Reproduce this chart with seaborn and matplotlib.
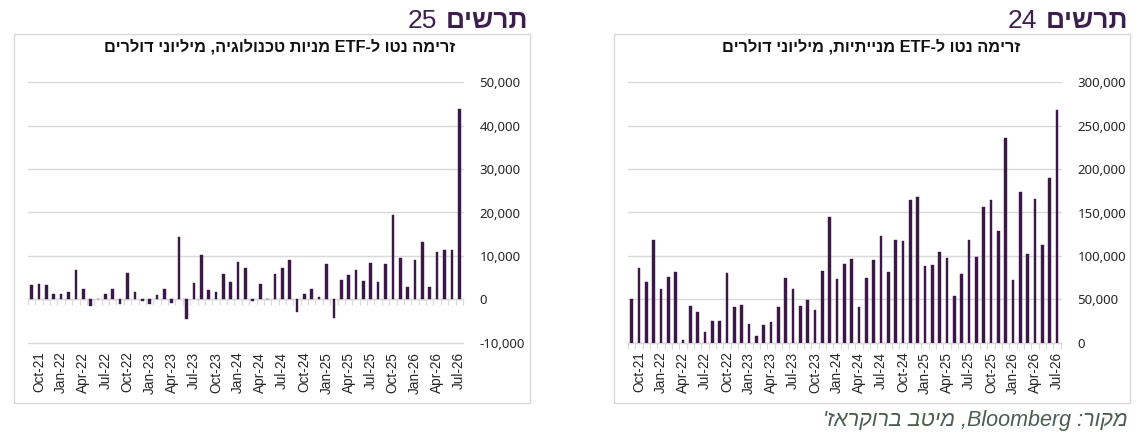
import matplotlib
matplotlib.use("Agg")
import matplotlib.pyplot as plt
import seaborn as sns
import pandas as pd
import numpy as np
from matplotlib.patches import Rectangle

sns.set_theme(style="white")
plt.rcParams['font.family'] = ['Liberation Sans', 'DejaVu Sans']

# ---------------- data ----------------
months = [
    "Sep-21", "Oct-21", "Nov-21", "Dec-21",
    "Jan-22", "Feb-22", "Mar-22", "Apr-22", "May-22", "Jun-22",
    "Jul-22", "Aug-22", "Sep-22", "Oct-22", "Nov-22", "Dec-22",
    "Jan-23", "Feb-23", "Mar-23", "Apr-23", "May-23", "Jun-23",
    "Jul-23", "Aug-23", "Sep-23", "Oct-23", "Nov-23", "Dec-23",
    "Jan-24", "Feb-24", "Mar-24", "Apr-24", "May-24", "Jun-24",
    "Jul-24", "Aug-24", "Sep-24", "Oct-24", "Nov-24", "Dec-24",
    "Jan-25", "Feb-25", "Mar-25", "Apr-25", "May-25", "Jun-25",
    "Jul-25", "Aug-25", "Sep-25", "Oct-25", "Nov-25", "Dec-25",
    "Jan-26", "Feb-26", "Mar-26", "Apr-26", "May-26", "Jun-26",
    "Jul-26",
]

# chart 25: net flows to technology-equity ETFs (USD millions)
tech_flows = [
    3300, 3450, 3300, 1150, 1150, 1750, 6850, 2300, -1550, 0,
    1150, 2450, -1000, 6150, 1750, -300, -1000, 950, 2300, -800,
    14450, -4550, 3750, 10300, 2100, 1600, 5900, 3900, 8600, 7100,
    -400, 3450, 0, 5900, 7200, 9000, -2950, 1150, 2300, 450,
    8100, -4250, 4400, 5700, 6800, 4200, 8300, 3900, 8100, 19500,
    9450, 2850, 9000, 13150, 2850, 11000, 11350, 11350, 43800,
]

# chart 24: net flows to equity ETFs (USD millions)
equity_flows = [
    50200, 86200, 69700, 118700, 61300, 75500, 82000, 3400, 42500, 35200,
    12300, 25300, 25300, 80800, 41700, 42900, 21100, 7700, 19900, 24100,
    41700, 74300, 61300, 42500, 49000, 37200, 83100, 144800, 73200, 90400,
    96100, 40600, 74300, 95000, 123300, 82000, 118700, 116800, 164700, 167400,
    88200, 89500, 104800, 97500, 53800, 78700, 117900, 98700, 156300, 164700,
    128600, 235800, 72200, 173600, 101800, 165900, 112500, 190100, 268000,
]

tick_labels = [
    "Oct-21", "Jan-22", "Apr-22", "Jul-22", "Oct-22", "Jan-23", "Apr-23",
    "Jul-23", "Oct-23", "Jan-24", "Apr-24", "Jul-24", "Oct-24", "Jan-25",
    "Apr-25", "Jul-25", "Oct-25", "Jan-26", "Apr-26", "Jul-26",
]

tech_yticks = [-10000, 0, 10000, 20000, 30000, 40000, 50000]
equity_yticks = [0, 50000, 100000, 150000, 200000, 250000, 300000]

# Hebrew strings in visual (left-to-right) order
title_word = "םישרת"          # תרשים
tech_num = "25"
equity_num = "24"
tech_sub = "םירלוד ינוילימ ,היגולונכט תוינמ ETF-ל וטנ המירז"
equity_sub = "םירלוד ינוילימ ,תויתיינמ ETF-ל וטנ המירז"
source_txt = "'זארקורב בטימ ,Bloomberg :רוקמ"

# ---------------- style ----------------
W, H = 1144, 448
BAR = "#3b1848"
GRID = "#d9d9d9"
TITLE_C = "#3d1f4e"
TEXT_C = "#262626"

fig = plt.figure(figsize=(W / 100, H / 100), dpi=100)
fig.patch.set_facecolor("white")


def fx(px):
    return px / W


def fy(py):
    return 1 - py / H


def panel(left_px, right_px, box, values, yticks, num, subtitle, sub_center):
    top_px, bot_px = 82.3, 342.7
    ax = fig.add_axes([fx(left_px), fy(bot_px), fx(right_px - left_px), (bot_px - top_px) / H])
    df = pd.DataFrame({"month": months, "value": values})
    sns.barplot(data=df, x="month", y="value", color=BAR, saturation=1,
                width=0.36, ax=ax, order=months, edgecolor=BAR, linewidth=0.3)
    ax.set_xlim(-0.5, len(months) - 0.5)
    ax.set_ylim(yticks[0], yticks[-1])
    for s in ax.spines.values():
        s.set_visible(False)
    ax.set_xlabel("")
    ax.set_ylabel("")
    ax.set_facecolor("none")

    # y axis on the right
    ax.yaxis.tick_right()
    ax.set_yticks(yticks, labels=[f"{v:,.0f}" for v in yticks],
                  fontfamily="Noto Sans", fontsize=9.5, color=TEXT_C)
    ax.tick_params(axis="y", length=0, pad=12)
    ax.yaxis.grid(True, color=GRID, lw=1)
    for gl in ax.get_ygridlines():
        gl.set_clip_on(False)
    ax.set_axisbelow(True)

    # x labels
    pos = [months.index(t) for t in tick_labels]
    ax.set_xticks(pos, labels=tick_labels, rotation=90, fontsize=9.8,
                  fontfamily="Liberation Sans", color=TEXT_C)
    ax.tick_params(axis="x", length=0, pad=6.5)

    # category tick marks on the zero line
    frac = (0 - yticks[0]) / (yticks[-1] - yticks[0])
    sec = ax.secondary_xaxis(frac)
    sec.set_xticks(np.arange(-0.5, len(months), 1.0))
    sec.tick_params(axis="x", length=4, width=0.8, color=GRID, labelbottom=False,
                    labeltop=False, direction="out")
    for s in sec.spines.values():
        s.set_color(GRID)
        s.set_linewidth(1)

    # framing box
    bx0, by0, bx1, by1 = box
    fig.add_artist(Rectangle((fx(bx0), fy(by1)), fx(bx1 - bx0), (by1 - by0) / H,
                             transform=fig.transFigure, fill=False, ec=GRID, lw=1))

    # title
    t = fig.text(fx(bx1 - 2), fy(21), title_word, ha="right", va="center",
                 fontsize=19, fontweight="bold", color=TITLE_C)
    ax.annotate(num, xy=(0, 0.5), xycoords=t, xytext=(-6, 0), textcoords="offset points",
                ha="right", va="center", fontsize=19, color=TITLE_C,
                annotation_clip=False)

    # subtitle
    fig.text(fx(sub_center), fy(47), subtitle, ha="center", va="center",
             fontsize=11.8, fontweight="bold", color="#111111")
    return ax


panel(28.0, 462.9, (14, 34, 530, 403), tech_flows, tech_yticks, tech_num, tech_sub, 280)
panel(628.0, 1060.7, (614, 34, 1130, 403), equity_flows, equity_yticks, equity_num,
      equity_sub, 871)

fig.text(fx(1128), fy(420), source_txt, ha="right", va="center", fontsize=15.5,
         style="italic", color="#4b5d50")

fig.savefig("out.png", dpi=100, facecolor="white")
